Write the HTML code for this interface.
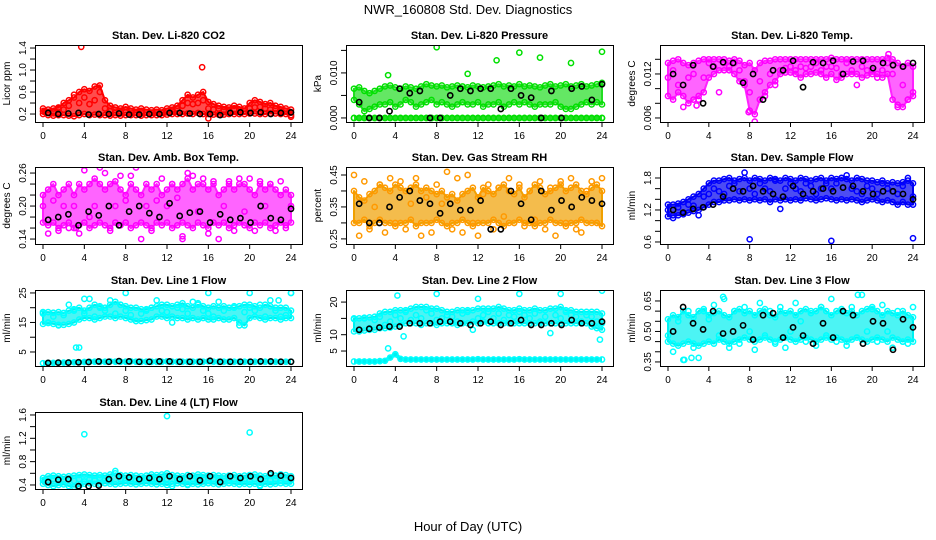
<!DOCTYPE html>
<html><head><meta charset="utf-8">
<style>
html,body{margin:0;padding:0;background:#fff;}
svg{display:block;font-family:"Liberation Sans",sans-serif;}
</style></head>
<body>
<svg id="chart" width="936" height="540" viewBox="0 0 936 540" xmlns="http://www.w3.org/2000/svg">
<text x="468" y="14" font-size="13" text-anchor="middle">NWR_160808  Std. Dev. Diagnostics</text>
<text x="468" y="531" font-size="13" text-anchor="middle">Hour of Day (UTC)</text>
</svg>
<script>
// ---- data (x spans 0..24 evenly over each array) ----
const hourTicks = [0,4,8,12,16,20,24];

const co2Hi = [0.3,0.28,0.3,0.32,0.4,0.45,0.5,0.6,0.65,0.62,0.7,0.72,0.45,0.35,0.32,0.3,0.33,0.3,0.28,0.3,0.28,0.27,0.28,0.27,0.3,0.32,0.35,0.45,0.55,0.5,0.55,0.6,0.42,0.38,0.35,0.33,0.32,0.35,0.33,0.3,0.4,0.45,0.42,0.38,0.4,0.35,0.33,0.3,0.28];
const co2Lo = [0.2,0.18,0.17,0.18,0.18,0.17,0.16,0.18,0.2,0.18,0.19,0.18,0.18,0.17,0.18,0.17,0.18,0.18,0.18,0.17,0.18,0.18,0.18,0.18,0.19,0.2,0.2,0.2,0.21,0.2,0.22,0.2,0.2,0.19,0.19,0.19,0.2,0.2,0.2,0.2,0.21,0.21,0.2,0.2,0.21,0.21,0.2,0.2,0.18];
const co2Sc = [0.25,0.22,0.24,0.3,0.28,0.35,0.55,0.4,0.5,0.38,0.45,0.6,0.3,0.25,0.22,0.24,0.23,0.25,0.22,0.24,0.23,0.22,0.24,0.22,0.25,0.26,0.3,0.35,0.4,0.38,0.4,0.45,0.3,0.28,0.3,0.27,0.26,0.28,0.27,0.25,0.3,0.32,0.33,0.3,0.28,0.3,0.27,0.26,0.15];
const co2Blk = [0.22,0.2,0.21,0.22,0.19,0.2,0.2,0.21,0.19,0.19,0.2,0.2,0.22,0.22,0.21,0.2,0.2,0.18,0.22,0.23,0.22,0.23,0.2,0.22,0.23];
const co2OutX = [3.7,15.4,16];
const co2OutY = [1.42,1.05,0.12];

const presHi = [0.0065,0.0068,0.006,0.0055,0.006,0.0065,0.007,0.0072,0.0068,0.0065,0.007,0.0068,0.0065,0.007,0.0075,0.0072,0.007,0.0072,0.0068,0.007,0.0072,0.007,0.0068,0.0072,0.007,0.0068,0.007,0.0072,0.0075,0.007,0.0072,0.007,0.0075,0.007,0.0072,0.007,0.0068,0.0072,0.0075,0.007,0.0072,0.0075,0.007,0.0072,0.0075,0.007,0.0072,0.0075,0.0078];
const presLo = [0,0,0,0,0,0,0,0,0,0,0,0,0,0,0,0,0,0,0,0,0,0,0,0,0,0,0,0,0,0,0,0,0,0,0,0,0,0,0,0,0,0,0,0,0,0,0,0,0];
const presSc = [0.004,0.003,0.0015,0.002,0.0025,0.003,0.003,0.0035,0.0025,0.003,0.004,0.0035,0.0025,0.003,0.0035,0.004,0.003,0.0035,0.003,0.0025,0.003,0.0035,0.003,0.003,0.0035,0.0025,0.003,0.003,0.0035,0.0025,0.003,0.0035,0.003,0.0035,0.003,0.0025,0.003,0.003,0.003,0.0035,0.0025,0.002,0.002,0.0025,0.003,0.0035,0.003,0.0035,0.003];
const presBlk = [0.0035,0,0,0.0015,0.0065,0.0055,0.006,0,0,0.005,0.0065,0.006,0.0065,0.0065,0.002,0.0065,0.005,0.0045,0,0.006,0,0.0065,0.007,0.004,0.0075];
const presOutX = [8,16,13.8,18,21,24,3.3,11];
const presOutY = [0.0157,0.0145,0.0128,0.0134,0.0122,0.0147,0.0095,0.0098];

const tempHi = [0.0135,0.0138,0.014,0.0135,0.0132,0.0135,0.0138,0.014,0.014,0.014,0.014,0.014,0.0138,0.014,0.0138,0.0132,0.0135,0.0125,0.0135,0.0138,0.0138,0.014,0.014,0.014,0.014,0.014,0.014,0.014,0.014,0.014,0.014,0.014,0.0142,0.014,0.014,0.014,0.014,0.014,0.014,0.014,0.014,0.014,0.014,0.0142,0.014,0.0135,0.013,0.0135,0.013];
const tempLo = [0.009,0.0085,0.0095,0.009,0.008,0.0085,0.009,0.0095,0.0115,0.012,0.0125,0.0125,0.0125,0.012,0.011,0.0105,0.007,0.0065,0.0085,0.0095,0.0105,0.011,0.012,0.0122,0.0122,0.012,0.0115,0.012,0.012,0.0122,0.012,0.0115,0.012,0.0112,0.0115,0.012,0.012,0.012,0.0115,0.0118,0.012,0.012,0.0115,0.012,0.0085,0.0078,0.0075,0.0085,0.009];
const tempSc = [0.0115,0.0125,0.0105,0.0075,0.0115,0.012,0.0085,0.0115,0.0135,0.013,0.0095,0.0135,0.013,0.0135,0.0125,0.011,0.0095,0.0055,0.011,0.009,0.012,0.0105,0.0125,0.0128,0.013,0.0125,0.013,0.0128,0.013,0.0135,0.0125,0.013,0.013,0.0128,0.012,0.0135,0.0125,0.0105,0.013,0.0125,0.0125,0.0115,0.0125,0.0135,0.012,0.0075,0.0105,0.0085,0.0095];
const tempBlk = [0.012,0.0105,0.0132,0.008,0.013,0.0136,0.0135,0.0108,0.012,0.0085,0.0125,0.0125,0.0138,0.0102,0.0136,0.0135,0.0138,0.012,0.0137,0.0138,0.0128,0.0135,0.0132,0.013,0.0135];
const tempOutX = [21.6,2.8,7.9];
const tempOutY = [0.0147,0.0077,0.0068];

const ambHi = [0.22,0.23,0.24,0.22,0.23,0.24,0.22,0.24,0.23,0.24,0.25,0.24,0.23,0.24,0.245,0.23,0.22,0.24,0.23,0.22,0.24,0.23,0.24,0.22,0.23,0.24,0.23,0.24,0.25,0.23,0.24,0.24,0.23,0.24,0.22,0.23,0.24,0.23,0.24,0.24,0.23,0.22,0.24,0.23,0.24,0.23,0.22,0.23,0.22];
const ambLo = [0.17,0.165,0.17,0.16,0.165,0.17,0.16,0.165,0.17,0.16,0.165,0.17,0.165,0.16,0.17,0.165,0.17,0.16,0.165,0.17,0.165,0.16,0.17,0.165,0.17,0.16,0.165,0.17,0.165,0.16,0.17,0.165,0.16,0.17,0.165,0.17,0.16,0.165,0.17,0.165,0.16,0.17,0.165,0.17,0.16,0.165,0.17,0.165,0.17];
const ambSc = [0.2,0.15,0.21,0.155,0.2,0.16,0.2,0.15,0.265,0.18,0.2,0.27,0.26,0.155,0.2,0.255,0.21,0.255,0.27,0.14,0.2,0.155,0.21,0.25,0.2,0.24,0.215,0.14,0.26,0.255,0.19,0.25,0.15,0.245,0.14,0.2,0.245,0.155,0.25,0.19,0.25,0.155,0.245,0.2,0.24,0.155,0.245,0.16,0.2];
const ambBlk = [0.175,0.18,0.185,0.165,0.19,0.183,0.2,0.165,0.19,0.2,0.187,0.18,0.205,0.182,0.188,0.19,0.17,0.185,0.175,0.178,0.17,0.2,0.178,0.175,0.195];
const ambOutX = [13.5,3.2];
const ambOutY = [0.145,0.16];

const rhHi = [0.4,0.38,0.37,0.39,0.4,0.42,0.41,0.4,0.42,0.41,0.4,0.41,0.42,0.4,0.41,0.4,0.39,0.4,0.38,0.39,0.37,0.39,0.4,0.41,0.38,0.41,0.4,0.39,0.41,0.42,0.4,0.39,0.41,0.38,0.4,0.42,0.41,0.39,0.4,0.41,0.42,0.4,0.41,0.42,0.4,0.39,0.41,0.42,0.4];
const rhLo = [0.3,0.3,0.31,0.29,0.3,0.31,0.3,0.3,0.29,0.3,0.3,0.31,0.29,0.3,0.3,0.3,0.31,0.3,0.29,0.3,0.3,0.31,0.3,0.29,0.3,0.3,0.3,0.31,0.3,0.29,0.3,0.3,0.31,0.3,0.3,0.29,0.3,0.3,0.31,0.3,0.3,0.29,0.3,0.3,0.31,0.3,0.3,0.3,0.29];
const rhSc = [0.45,0.26,0.43,0.28,0.35,0.42,0.27,0.44,0.3,0.43,0.28,0.36,0.44,0.26,0.38,0.27,0.42,0.36,0.46,0.28,0.44,0.27,0.45,0.3,0.26,0.39,0.42,0.28,0.41,0.32,0.44,0.3,0.42,0.29,0.4,0.31,0.43,0.28,0.41,0.26,0.43,0.3,0.44,0.28,0.27,0.4,0.43,0.3,0.44];
const rhBlk = [0.36,0.3,0.3,0.35,0.38,0.4,0.37,0.36,0.33,0.36,0.34,0.34,0.37,0.28,0.28,0.4,0.36,0.31,0.4,0.34,0.37,0.35,0.38,0.37,0.36];
const rhOutX = [];
const rhOutY = [];

const sfHi = [1.3,1.3,1.32,1.35,1.4,1.45,1.5,1.6,1.7,1.75,1.75,1.78,1.8,1.75,1.78,1.8,1.75,1.8,1.78,1.75,1.8,1.78,1.75,1.8,1.78,1.75,1.8,1.78,1.75,1.78,1.8,1.75,1.8,1.78,1.8,1.78,1.75,1.8,1.78,1.75,1.75,1.72,1.75,1.7,1.72,1.7,1.72,1.75,1.7];
const sfLo = [1.08,1.1,1.1,1.12,1.15,1.18,1.2,1.25,1.3,1.35,1.35,1.38,1.38,1.4,1.38,1.4,1.38,1.4,1.38,1.4,1.35,1.4,1.38,1.4,1.38,1.4,1.38,1.42,1.4,1.38,1.4,1.42,1.4,1.38,1.4,1.38,1.4,1.38,1.35,1.38,1.4,1.38,1.35,1.38,1.35,1.3,1.35,1.3,1.3];
const sfSc = [1.2,1.05,1.25,1.15,1.3,1.28,1.1,1.45,1.5,1.6,1.55,1.5,1.65,1.7,1.55,1.9,1.6,1.5,1.7,1.6,1.55,1.75,1.22,1.6,1.7,1.6,1.55,1.7,1.65,1.5,1.6,1.7,1.6,1.7,1.8,1.85,1.6,1.55,1.5,1.65,1.6,1.5,1.7,1.6,1.55,1.5,1.65,1.8,1.45];
const sfBlk = [1.2,1.15,1.22,1.25,1.3,1.45,1.6,1.55,1.65,1.55,1.5,1.45,1.65,1.5,1.55,1.6,1.55,1.62,1.65,1.55,1.5,1.55,1.55,1.5,1.4];
const sfOutX = [8,16,24];
const sfOutY = [0.65,0.62,0.67];

const l1Hi = [18.5,18.5,18.3,18.5,18.2,19,19.5,20,19,20,21,20.5,20,21,22,21,20.5,20,20,19.5,19.5,20,20.5,21,21,20.5,21,21.5,20.5,20,21,20.5,20,20.5,20,20.5,20,20,20.5,21,21,20.5,20,21,20.5,20,20,20,19];
const l1Lo = [14.5,14.8,14.5,14.2,14.2,14.5,15,16,16.5,16.5,16,16.5,17,17,16.5,17,16.5,16,15.5,15.5,15.8,16,17,17,16.5,17,16.5,16.5,16,16.5,16,16.5,16,16,16.5,16,16,16.5,15,14,16.5,17,16.5,16,16.5,16.5,16,16.5,16.5];
const l1Sc = [18,15,17,14,17.5,21,19,6.5,18,23,17,20,19,22.5,18,21,19,17.5,15.5,18,19,20,22.5,19,18.5,15,20,19.5,18,22,21.5,19,18,17,22,19,20,20.5,14,18.5,20,19,21,17,22.5,19,17,17.5,25];
const l1Base = [1.2,1.3,1.3,1.4,1.4,1.5,1.5,1.5,1.6,1.7,1.7,1.7,1.7,1.8,1.7,1.7,1.7,1.8,1.7,1.7,1.7,1.7,1.7,1.7,1.8,1.7,1.7,1.7,1.7,1.7,1.7,1.7,1.8,1.7,1.7,1.7,1.7,1.7,1.7,1.7,1.7,1.7,1.7,1.7,1.7,1.7,1.7,1.7,1.7];
const l1Blk = [1.3,1.4,1.4,1.5,1.6,1.8,1.7,1.9,1.8,1.7,1.7,1.8,1.8,1.7,1.7,1.7,2,1.7,1.7,1.7,1.7,1.8,1.8,1.7,1.7];
const l1OutX = [4,8,16,20,24,3.2,22.8];
const l1OutY = [23,25,25,25,25,6.5,22.5];

const l2Hi = [15,15,15.2,15.3,15.5,16.5,17,17,17.5,17.5,17.5,18,18.5,18.5,18.5,18,18,17.5,17,17,17.5,17.5,17.5,17.5,18,18,18,18,18.5,18,17.5,17.5,18,17.5,17.5,18,17.5,17.5,18,18,18.5,17.5,17.5,17,17,17,17,17,16.5];
const l2Lo = [11,11,11.3,11.5,11.5,12,12,12.2,12.5,13,13.5,13.5,13.5,13,13.5,13.5,13,13.5,13.5,13.5,13,13.5,13.5,14,13.5,14,13.5,13.5,13.5,13.5,13.5,13.5,13.5,13.5,13.5,13.5,13.5,13.5,13.5,13.5,13.5,13.5,13.5,13.5,13.5,13.5,12.5,12,11.5];
const l2Sc = [14.8,11.5,15,12,14.5,15.5,13,14,16,15,17,14.5,16,15,17.5,16.5,14.5,15,16,15.5,14,16.5,17,11.5,15,16,17,15,16.5,14.5,16,15.5,17,16,15,16.5,14,15.5,10.5,16,15,17,16,15.5,14,16,15.5,14,13.5];
const l2Base = [1.8,1.8,1.8,1.8,1.8,1.9,2,3,4,2.6,2.4,2.4,2.4,2.4,2.4,2.4,2.4,2.4,2.4,2.4,2.4,2.4,2.4,2.4,2.5,2.4,2.4,2.4,2.4,2.4,2.4,2.4,2.5,2.4,2.4,2.4,2.4,2.4,2.4,2.4,2.4,2.4,2.4,2.4,2.4,2.4,2.4,2.4,2.4];
const l2Blk = [11.5,11.8,12.2,12.5,12.5,13.5,13.5,13.5,14,14,13.5,13,13.5,14,13,13.5,14.5,13,13,13.5,13,14.5,13.5,13.5,14];
const l2OutX = [4.2,8,12,16,20,24,4.8,23.8,3.3];
const l2OutY = [22,22.5,21,22.5,22.5,23.5,9.5,8.5,5.8];

const l3Hi = [0.56,0.58,0.57,0.6,0.58,0.57,0.6,0.61,0.58,0.59,0.6,0.58,0.57,0.6,0.61,0.59,0.6,0.58,0.6,0.61,0.58,0.57,0.6,0.59,0.6,0.58,0.6,0.61,0.59,0.6,0.62,0.6,0.58,0.6,0.61,0.59,0.6,0.58,0.6,0.61,0.62,0.6,0.58,0.6,0.59,0.58,0.6,0.58,0.57];
const l3Lo = [0.45,0.44,0.43,0.44,0.45,0.44,0.43,0.44,0.45,0.44,0.46,0.45,0.44,0.45,0.46,0.47,0.46,0.45,0.46,0.47,0.46,0.45,0.46,0.47,0.46,0.45,0.46,0.47,0.46,0.45,0.46,0.47,0.46,0.47,0.46,0.45,0.46,0.47,0.46,0.45,0.46,0.47,0.46,0.45,0.47,0.46,0.45,0.46,0.45];
const l3Sc = [0.48,0.4,0.55,0.36,0.6,0.42,0.37,0.6,0.56,0.63,0.48,0.66,0.42,0.6,0.44,0.62,0.5,0.41,0.64,0.48,0.6,0.44,0.62,0.42,0.5,0.64,0.55,0.45,0.6,0.43,0.62,0.48,0.66,0.45,0.6,0.43,0.62,0.47,0.68,0.5,0.61,0.45,0.63,0.5,0.42,0.6,0.45,0.44,0.62];
const l3Blk = [0.5,0.62,0.54,0.51,0.6,0.49,0.5,0.53,0.46,0.58,0.59,0.47,0.52,0.48,0.44,0.54,0.47,0.6,0.58,0.44,0.55,0.54,0.41,0.56,0.52];
const l3OutX = [1.6,2.3,18.6,5.4];
const l3OutY = [0.36,0.37,0.68,0.67];

const l4Hi = [0.52,0.55,0.56,0.55,0.54,0.55,0.56,0.57,0.58,0.57,0.56,0.57,0.56,0.58,0.6,0.57,0.56,0.57,0.56,0.55,0.56,0.58,0.57,0.58,0.6,0.57,0.56,0.55,0.57,0.56,0.58,0.57,0.56,0.57,0.56,0.55,0.56,0.57,0.55,0.56,0.57,0.58,0.56,0.55,0.57,0.56,0.58,0.57,0.55];
const l4Lo = [0.42,0.4,0.38,0.4,0.41,0.38,0.37,0.38,0.42,0.43,0.42,0.42,0.43,0.42,0.41,0.42,0.43,0.42,0.41,0.42,0.43,0.42,0.41,0.42,0.4,0.42,0.43,0.42,0.41,0.42,0.41,0.42,0.43,0.42,0.41,0.42,0.43,0.42,0.41,0.42,0.41,0.42,0.4,0.42,0.41,0.42,0.43,0.42,0.42];
const l4Sc = [0.48,0.45,0.5,0.46,0.48,0.5,0.47,0.5,0.46,0.5,0.48,0.52,0.5,0.47,0.64,0.5,0.48,0.5,0.47,0.5,0.52,0.48,0.5,0.46,0.5,0.38,0.5,0.48,0.4,0.5,0.48,0.5,0.47,0.5,0.48,0.5,0.47,0.5,0.48,0.5,0.47,0.5,0.38,0.5,0.48,0.5,0.47,0.5,0.48];
const l4Blk = [0.45,0.49,0.5,0.38,0.38,0.39,0.5,0.55,0.53,0.5,0.52,0.5,0.55,0.5,0.55,0.48,0.55,0.45,0.55,0.52,0.55,0.5,0.6,0.56,0.52];
const l4OutX = [4,12,20];
const l4OutY = [1.27,1.58,1.3];

// ---- layout ----
const NS = "http://www.w3.org/2000/svg";
const svg = document.getElementById('chart');
const cols = [{x0:43,x24:291,L:35,R:302},{x0:354,x24:602,L:346,R:613},{x0:668,x24:913,L:660,R:924}];
const rows = [{T:45,B:122},{T:167,B:244},{T:290,B:366},{T:412,B:489}];

const panels = [
 {id:'co2',c:0,r:0,title:'Stan. Dev. Li-820 CO2',ylab:'Licor ppm',ymin:0.055,ymax:1.455,ticks:[0.2,0.4,0.6,0.8,1.0,1.2,1.4],labs:['0.2','0.6','1.0','1.4'],col:'#ff0000',band:'#ff0000',hi:co2Hi,lo:co2Lo,sc:co2Sc,blk:co2Blk,ox:co2OutX,oy:co2OutY},
 {id:'pressure',c:1,r:0,title:'Stan. Dev. Li-820 Pressure',ylab:'kPa',ymin:-0.0009,ymax:0.0162,ticks:[0,0.005,0.01,0.015],labs:['0.000','0.010'],col:'#00e000',band:'#22dd22',hi:presHi,lo:presLo,sc:presSc,blk:presBlk,ox:presOutX,oy:presOutY,bandLow:'sc'},
 {id:'temp',c:2,r:0,title:'Stan. Dev. Li-820 Temp.',ylab:'degrees C',ymin:0.00545,ymax:0.01595,ticks:[0.006,0.008,0.01,0.012,0.014],labs:['0.006','0.012'],col:'#ff00ff',band:'#ff22ff',hi:tempHi,lo:tempLo,sc:tempSc,blk:tempBlk,ox:tempOutX,oy:tempOutY},
 {id:'amb-temp',c:0,r:1,title:'Stan. Dev. Amb. Box Temp.',ylab:'degrees C',ymin:0.131,ymax:0.271,ticks:[0.14,0.16,0.18,0.2,0.22,0.24,0.26],labs:['0.14','0.20','0.26'],col:'#ff00ff',band:'#ff22ff',hi:ambHi,lo:ambLo,sc:ambSc,blk:ambBlk,ox:ambOutX,oy:ambOutY},
 {id:'rh',c:1,r:1,title:'Stan. Dev. Gas Stream RH',ylab:'percent',ymin:0.234,ymax:0.475,ticks:[0.25,0.3,0.35,0.4,0.45],labs:['0.25','0.35','0.45'],col:'#ff9900',band:'#f0a000',hi:rhHi,lo:rhLo,sc:rhSc,blk:rhBlk,ox:rhOutX,oy:rhOutY},
 {id:'sample-flow',c:2,r:1,title:'Stan. Dev. Sample Flow',ylab:'ml/min',ymin:0.562,ymax:2.006,ticks:[0.6,0.8,1.0,1.2,1.4,1.6,1.8],labs:['0.6','1.2','1.8'],col:'#0000ff',band:'#0000ee',hi:sfHi,lo:sfLo,sc:sfSc,blk:sfBlk,ox:sfOutX,oy:sfOutY},
 {id:'line1',c:0,r:2,title:'Stan. Dev. Line 1 Flow',ylab:'ml/min',ymin:0.25,ymax:26,ticks:[5,10,15,20,25],labs:['5','15','25'],col:'#00ffff',band:'#00f0f0',hi:l1Hi,lo:l1Lo,sc:l1Sc,base:l1Base,blk:l1Blk,ox:l1OutX,oy:l1OutY},
 {id:'line2',c:1,r:2,title:'Stan. Dev. Line 2 Flow',ylab:'ml/min',ymin:0.41,ymax:23.7,ticks:[5,10,15,20],labs:['5','10','20'],col:'#00ffff',band:'#00f0f0',hi:l2Hi,lo:l2Lo,sc:l2Sc,base:l2Base,blk:l2Blk,ox:l2OutX,oy:l2OutY},
 {id:'line3',c:2,r:2,title:'Stan. Dev. Line 3 Flow',ylab:'ml/min',ymin:0.33,ymax:0.704,ticks:[0.35,0.4,0.45,0.5,0.55,0.6,0.65],labs:['0.35','0.50','0.65'],col:'#00ffff',band:'#00f0f0',hi:l3Hi,lo:l3Lo,sc:l3Sc,blk:l3Blk,ox:l3OutX,oy:l3OutY},
 {id:'line4',c:0,r:3,title:'Stan. Dev. Line 4 (LT) Flow',ylab:'ml/min',ymin:0.331,ymax:1.651,ticks:[0.4,0.6,0.8,1.0,1.2,1.4,1.6],labs:['0.4','0.8','1.2','1.6'],col:'#00ffff',band:'#00f0f0',hi:l4Hi,lo:l4Lo,sc:l4Sc,blk:l4Blk,ox:l4OutX,oy:l4OutY}
];

function mk(tag, attrs, parent){ const e=document.createElementNS(NS,tag); for(const k in attrs) e.setAttribute(k,attrs[k]); (parent||svg).appendChild(e); return e; }
function fmt(v,labs){ return labs.find(l=>Math.abs(parseFloat(l)-v)<1e-9); }

panels.forEach(p=>{
  const C=cols[p.c], R=rows[p.r];
  const xs = h => C.x0 + h*(C.x24-C.x0)/24;
  const ys = v => R.B - (v-p.ymin)/(p.ymax-p.ymin)*(R.B-R.T);
  const xi = (i,n) => xs(i*24/(n-1));
  const g = mk('g',{});
  
  
  const clip = mk('clipPath',{id:'clip-'+p.id},g);
  mk('rect',{x:C.L,y:R.T,width:C.R-C.L,height:R.B-R.T},clip);
  const plot = mk('g',{'clip-path':'url(#clip-'+p.id+')'},g);
  
  
  const lowArr = p.bandLow==='sc' ? p.sc : p.lo;
  let pts = p.hi.map((v,i)=>xi(i,p.hi.length).toFixed(1)+','+ys(v).toFixed(1));
  for(let i=lowArr.length-1;i>=0;i--) pts.push(xi(i,lowArr.length).toFixed(1)+','+ys(lowArr[i]).toFixed(1));
  const band = mk('polygon',{points:pts.join(' '),fill:p.band,'fill-opacity':0.7,stroke:p.band,'stroke-width':2,'stroke-linejoin':'round'},plot);
  
  
  const baseLines = [];
  if(p.base) baseLines.push(p.base);
  if(p.bandLow==='sc') baseLines.push(p.lo);
  baseLines.forEach(arr=>{
    const bl = mk('polyline',{points:arr.map((v,i)=>xi(i,arr.length).toFixed(1)+','+ys(v).toFixed(1)).join(' '),fill:'none',stroke:p.band,'stroke-width':4,'stroke-linejoin':'round'},plot);
    
    
    arr.forEach((v,i)=>{
      const c = mk('circle',{cx:xi(i,arr.length),cy:ys(v),r:2.6,fill:'none',stroke:p.col,'stroke-width':1.5},plot);
      
      
    });
  });
  [p.hi,p.lo,p.sc].forEach(arr=>{
    arr.forEach((v,i)=>{
      const c = mk('circle',{cx:xi(i,arr.length),cy:ys(v),r:2.6,fill:'none',stroke:p.col,'stroke-width':1.5},plot);
      
      
    });
  });
  p.ox.forEach((h,i)=>{
    const c = mk('circle',{cx:xs(h),cy:ys(p.oy[i]),r:2.6,fill:'none',stroke:p.col,'stroke-width':1.5},plot);
    
    
  });
  p.blk.forEach((v,i)=>{
    const c = mk('circle',{cx:xs(0.5+i*23.5/(p.blk.length-1)),cy:ys(v),r:2.6,fill:'none',stroke:'#000','stroke-width':1.6},plot);
    
    
  });
  const fr = mk('rect',{x:C.L+0.5,y:R.T+0.5,width:C.R-C.L,height:R.B-R.T,fill:'none',stroke:'#000','stroke-width':1},g);
  
  
  const t = mk('text',{x:(C.L+C.R)/2,y:R.T-6,'font-size':11,'font-weight':'bold','text-anchor':'middle'},g);
  t.textContent=p.title;
  
  
  hourTicks.forEach(h=>{
    const X=xs(h);
    mk('line',{x1:X,y1:R.B,x2:X,y2:R.B+5,stroke:'#000'},g);
    const tl = mk('text',{x:X,y:R.B+17,'font-size':10,'text-anchor':'middle'},g);
    tl.textContent=h;
    
    
  });
  p.ticks.forEach(v=>{
    const Y=ys(v);
    mk('line',{x1:C.L-5,y1:Y,x2:C.L,y2:Y,stroke:'#000'},g);
    const lab=fmt(v,p.labs);
    if(lab){
      const tl = mk('text',{x:C.L-9,y:Y,'font-size':10,'text-anchor':'middle',transform:'rotate(-90 '+(C.L-9)+' '+Y+')'},g);
      tl.textContent=lab;
      
      
    }
  });
  const yl = mk('text',{x:C.L-25,y:(R.T+R.B)/2,'font-size':10,'text-anchor':'middle',transform:'rotate(-90 '+(C.L-25)+' '+((R.T+R.B)/2)+')'},g);
  yl.textContent=p.ylab;
  
  
});
</script>
</body></html>
